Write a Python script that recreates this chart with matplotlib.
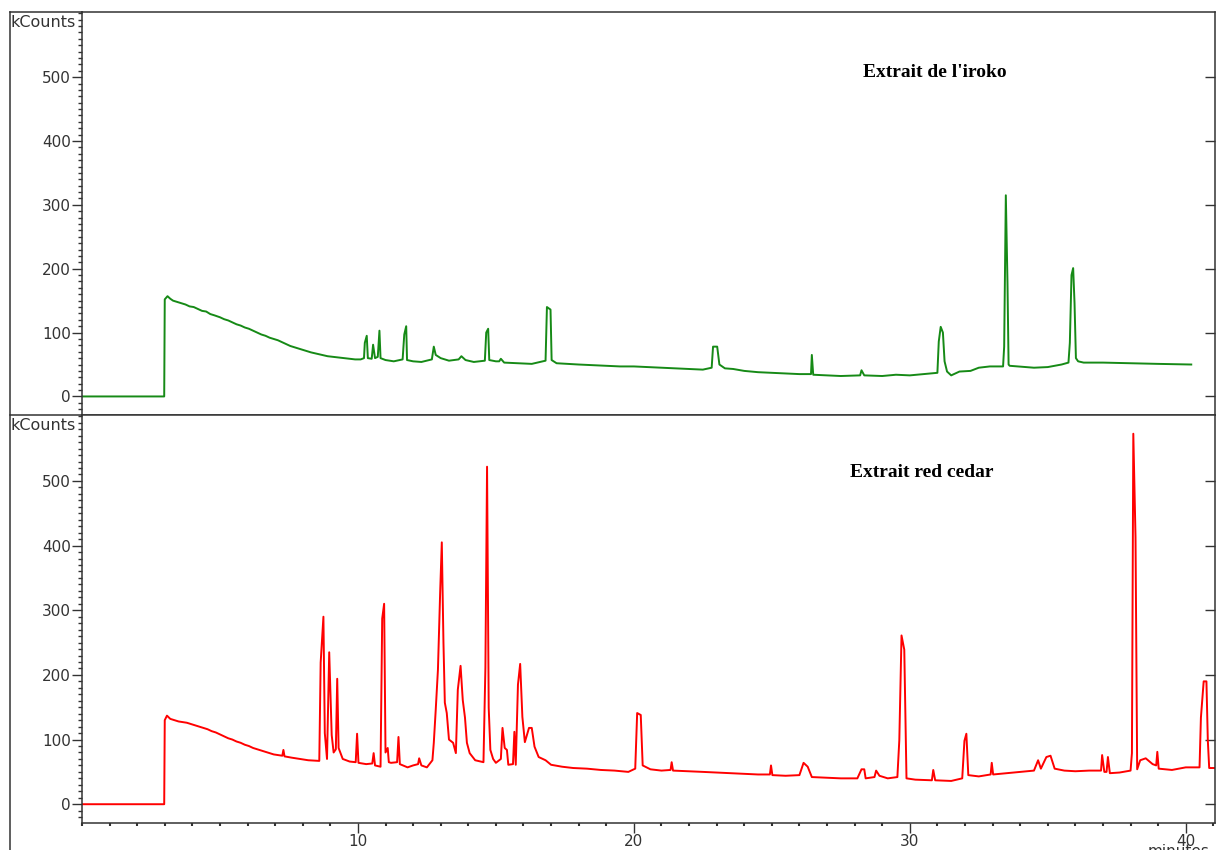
import matplotlib
matplotlib.use("Agg")
import matplotlib.pyplot as plt
from matplotlib.lines import Line2D
from matplotlib.ticker import MultipleLocator

# retention time (min) / intensity (kCounts)
iroko_t = [0.0, 2.98, 3.0, 3.1, 3.2, 3.3, 3.45, 3.6, 3.75, 3.9, 4.05, 4.2, 4.35,
           4.5, 4.65, 4.8, 5.0, 5.15, 5.3, 5.45, 5.6, 5.75, 5.9, 6.05, 6.2, 6.35,
           6.5, 6.65, 6.8, 6.95, 7.1, 7.25, 7.4, 7.55, 7.7, 7.85, 8.0, 8.15, 8.3,
           8.5, 8.7, 8.9, 9.1, 9.3, 9.5, 9.7, 9.9, 10.1,
           10.22, 10.25, 10.32, 10.36, 10.5, 10.55, 10.62, 10.72, 10.78, 10.82,
           11.0, 11.3, 11.62, 11.68, 11.75, 11.78, 12.0, 12.3, 12.68, 12.75,
           12.82, 13.0, 13.3, 13.65, 13.75, 13.9, 14.2, 14.6, 14.65, 14.72, 14.76,
           15.0, 15.12, 15.18, 15.3, 15.8, 16.3, 16.8, 16.85, 16.98, 17.02,
           17.2, 17.6, 18.0, 18.5, 19.0, 19.5, 20.0, 20.5, 21.0, 21.5, 22.0,
           22.5, 22.82, 22.87, 23.02, 23.1, 23.3, 23.6, 24.0, 24.5, 25.0, 25.5,
           26.0, 26.42, 26.45, 26.5, 27.0, 27.5, 28.2, 28.25, 28.35, 29.0, 29.5,
           30.0, 30.5, 31.0, 31.05, 31.12, 31.2, 31.26, 31.35, 31.5, 31.8, 32.2,
           32.5, 32.9, 33.38, 33.42, 33.48, 33.54, 33.58, 33.62, 33.9, 34.5,
           35.0, 35.5, 35.75, 35.8, 35.86, 35.92, 35.97, 36.02, 36.1, 36.3,
           37.0, 38.0, 39.0, 40.2]
iroko_y = [0, 0, 152, 157, 153, 150, 148, 146, 144, 141, 140, 137, 134,
           133, 129, 127, 124, 121, 119, 116, 113, 111, 108, 106, 103, 100,
           97, 95, 92, 90, 88, 85, 82, 79, 77, 75, 73, 71, 69,
           67, 65, 63, 62, 61, 60, 59, 58, 58,
           60, 84, 95, 60, 59, 81, 60, 62, 103, 60,
           57, 55, 58, 97, 110, 57, 55, 54, 58, 78,
           65, 60, 56, 58, 63, 57, 54, 56, 100, 106, 57,
           55, 55, 59, 53, 52, 51, 56, 140, 136, 57,
           52, 51, 50, 49, 48, 47, 47, 46, 45, 44, 43,
           42, 45, 78, 78, 50, 44, 43, 40, 38, 37, 36,
           35, 35, 65, 34, 33, 32, 33, 41, 33, 32, 34,
           33, 35, 37, 86, 109, 100, 55, 39, 33, 39, 40,
           45, 47, 47, 78, 315, 178, 50, 48, 47, 45,
           46, 50, 53, 84, 190, 201, 146, 60, 55, 53,
           53, 52, 51, 50]

cedar_t = [0.0, 2.98, 3.0, 3.08, 3.2, 3.35, 3.5, 3.65, 3.8, 3.95, 4.1, 4.25,
           4.4, 4.55, 4.7, 4.85, 5.0, 5.15, 5.3, 5.45, 5.6, 5.75, 5.9, 6.05,
           6.2, 6.35, 6.5, 6.65, 6.8, 6.95, 7.1, 7.26, 7.3, 7.34, 7.6, 7.9,
           8.2, 8.6, 8.65, 8.75, 8.8, 8.88, 8.96, 9.0, 9.05, 9.12, 9.2, 9.25,
           9.3, 9.45, 9.7, 9.92, 9.97, 10.02, 10.3, 10.52, 10.57, 10.62, 10.82,
           10.88, 10.95, 11.0, 11.08, 11.12, 11.2, 11.42, 11.47, 11.52, 11.8,
           12.0, 12.18, 12.22, 12.3, 12.5, 12.7, 12.75, 12.82, 12.9, 12.98,
           13.04, 13.1, 13.15, 13.22, 13.3, 13.45, 13.55, 13.62, 13.72, 13.8,
           13.88, 13.95, 14.05, 14.25, 14.55, 14.62, 14.68, 14.74, 14.8, 14.9,
           15.0, 15.18, 15.24, 15.32, 15.4, 15.45, 15.62, 15.67, 15.72, 15.8,
           15.88, 15.96, 16.05, 16.2, 16.3, 16.4, 16.55, 16.8, 17.0, 17.4, 17.8,
           18.3, 18.8, 19.3, 19.8, 20.05, 20.12, 20.25, 20.32, 20.6, 21.0,
           21.33, 21.37, 21.42, 22.0, 22.5, 23.0, 23.5, 24.0, 24.5, 24.93,
           24.97, 25.02, 25.5, 26.0, 26.15, 26.3, 26.45, 27.0, 27.5, 28.1,
           28.25, 28.35, 28.4, 28.72, 28.78, 28.9, 29.2, 29.55, 29.62, 29.7,
           29.8, 29.88, 30.2, 30.8, 30.85, 30.92, 31.5, 31.9, 31.98, 32.05,
           32.12, 32.5, 32.93, 32.97, 33.02, 33.5, 34.0, 34.5, 34.65, 34.75,
           34.95, 35.1, 35.25, 35.6, 36.0, 36.5, 36.93, 36.97, 37.05, 37.13,
           37.18, 37.25, 37.6, 38.0, 38.05, 38.1, 38.18, 38.24, 38.35, 38.55,
           38.8, 38.93, 38.97, 39.02, 39.5, 40.0, 40.5, 40.55, 40.65, 40.75,
           40.8, 40.85, 41.05]
cedar_y = [0, 0, 130, 137, 132, 130, 128, 127, 126, 124, 122, 120,
           118, 116, 113, 111, 108, 105, 102, 100, 97, 95, 92, 90,
           87, 85, 83, 81, 79, 77, 76, 75, 84, 74, 72, 70,
           68, 67, 219, 290, 110, 70, 235, 177, 107, 80, 85, 194,
           87, 70, 66, 65, 109, 64, 62, 63, 79, 60, 58,
           287, 310, 80, 87, 65, 64, 65, 104, 62, 57,
           60, 62, 71, 60, 57, 68, 95, 146, 208, 327,
           405, 250, 157, 141, 100, 95, 79, 177, 214, 161,
           134, 95, 79, 68, 65, 211, 522, 149, 84, 70,
           64, 70, 118, 87, 84, 61, 62, 112, 61, 185,
           217, 135, 96, 118, 118, 89, 73, 68, 61, 58, 56,
           55, 53, 52, 50, 55, 141, 138, 60, 54, 52,
           53, 65, 52, 51, 50, 49, 48, 47, 46, 46,
           60, 45, 44, 45, 64, 58, 42, 41, 40, 40,
           54, 54, 40, 42, 52, 44, 40, 42, 99, 261,
           239, 40, 38, 37, 53, 37, 36, 40, 98, 109,
           45, 43, 46, 64, 46, 48, 50, 52, 68, 55,
           73, 75, 55, 52, 51, 52, 52, 76, 50, 50,
           73, 48, 49, 52, 79, 573, 413, 54, 68, 71,
           62, 60, 81, 55, 53, 57, 57, 134, 190, 190,
           99, 56, 56]

titles = ["Extrait de l'iroko", "Extrait red cedar"]
colors = ["#168a16", "#ff0000"]
x_ticks = [10, 20, 30, 40]
y_ticks = [0, 100, 200, 300, 400, 500]

fig = plt.figure(figsize=(12.18, 8.5), dpi=100)
ax_top = fig.add_axes([0.0673, 0.5118, 0.930, 0.4741])
ax_bot = fig.add_axes([0.0673, 0.0318, 0.930, 0.4800])

spine_c = "#333333"
for ax, t, y, title, col, tx, ty in [
        (ax_top, iroko_t, iroko_y, titles[0], colors[0], 0.753, 0.849),
        (ax_bot, cedar_t, cedar_y, titles[1], colors[1], 0.741, 0.858)]:
    ax.plot(t, y, color=col, lw=1.4)
    ax.set_xlim(0, 41.05)
    ax.set_ylim(-29, 602)
    for s in ax.spines.values():
        s.set_color(spine_c)
        s.set_linewidth(1.1)
    ax.yaxis.set_minor_locator(MultipleLocator(10))
    ax.set_yticks(y_ticks)
    ax.tick_params(axis="y", which="major", direction="out", length=7, width=1,
                   color=spine_c, labelsize=11, labelcolor="#333333", pad=1,
                   right=True)
    ax.tick_params(axis="y", which="minor", direction="out", length=3, width=1,
                   color=spine_c)
    ax.text(tx, ty, title, transform=ax.transAxes, ha="center", va="center",
            fontsize=14, fontweight="bold", family="Liberation Serif")
    ax.text(-0.063, 0.992, "kCounts", transform=ax.transAxes, ha="left",
            va="top", fontsize=11.5, color="#333333")

# right-side ticks point inwards
for ax in (ax_top, ax_bot):
    for tl in ax.yaxis.get_major_ticks():
        tl.tick2line.set_marker(matplotlib.markers.TICKLEFT)
        tl.tick2line.set_markersize(7)

ax_top.tick_params(axis="x", which="both", bottom=False, labelbottom=False)
ax_bot.xaxis.set_minor_locator(MultipleLocator(1))
ax_bot.set_xticks(x_ticks)
ax_bot.tick_params(axis="x", which="major", direction="out", length=7, width=1,
                   color=spine_c, labelsize=11, labelcolor="#333333", pad=1)
ax_bot.tick_params(axis="x", which="minor", direction="out", length=2, width=1.5,
                   color=spine_c)

# outer frame lines
fig.add_artist(Line2D([0.0082, 0.0082], [0.0, 0.9859], color=spine_c, lw=1.1,
                      transform=fig.transFigure))
fig.add_artist(Line2D([0.0082, 0.0673], [0.9859, 0.9859], color=spine_c, lw=1.1,
                      transform=fig.transFigure))
fig.add_artist(Line2D([0.0082, 0.0673], [0.5118, 0.5118], color=spine_c, lw=1.1,
                      transform=fig.transFigure))
fig.text(0.968, 0.007, "minutes", ha="center", va="top", fontsize=11,
         color="#333333")

plt.savefig("out.png", dpi=100)
